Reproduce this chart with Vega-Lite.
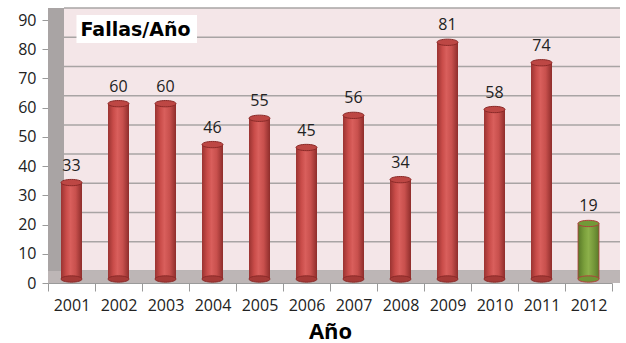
{
  "$schema": "https://vega.github.io/schema/vega-lite/v6.json",
  "width": 564,
  "height": 263,
  "autosize": {"type": "none"},
  "padding": {"left": 48, "top": 20, "right": 14, "bottom": 60},
  "background": "white",
  "view": {"stroke": null, "fill": null},
  "config": {
    "axis": {"labelFont": "Open Sans", "labelFontSize": 16, "labelColor": "#222222", "domainColor": "#9a9a9a", "tickColor": "#9a9a9a", "grid": false},
    "axisX": {"labelAngle": 0, "tickBand": "extent", "tickSize": 8, "labelPadding": 6, "titleFont": "Open Sans", "titleFontSize": 22, "titleFontWeight": "bold", "titleColor": "#000000", "titlePadding": 8},
    "axisY": {"tickSize": 6, "labelPadding": 6, "values": [0, 10, 20, 30, 40, 50, 60, 70, 80, 90]}
  },
  "datasets": {
    "fallas": [
      {"year": "2001", "value": 33},
      {"year": "2002", "value": 60},
      {"year": "2003", "value": 60},
      {"year": "2004", "value": 46},
      {"year": "2005", "value": 55},
      {"year": "2006", "value": 45},
      {"year": "2007", "value": 56},
      {"year": "2008", "value": 34},
      {"year": "2009", "value": 81},
      {"year": "2010", "value": 58},
      {"year": "2011", "value": 74},
      {"year": "2012", "value": 19}
    ],
    "grid": [{"v": 0}, {"v": 10}, {"v": 20}, {"v": 30}, {"v": 40}, {"v": 50}, {"v": 60}, {"v": 70}, {"v": 80}, {"v": 90}],
    "one": [{"label": "Fallas/Año"}]
  },
  "layer": [
    {
      "data": {"name": "fallas"},
      "mark": {"type": "bar", "opacity": 0},
      "encoding": {
        "x": {"field": "year", "type": "nominal", "sort": null, "title": "Año", "scale": {"paddingInner": 0, "paddingOuter": 0}},
        "y": {"field": "value", "type": "quantitative", "title": null, "scale": {"domain": [0, 90]}}
      }
    },
    {
      "data": {"name": "one"},
      "mark": {"type": "rect", "fill": "#a9a4a4", "xOffset": -23.5, "x2Offset": -7.5, "y2Offset": -12},
      "encoding": {
        "x": {"datum": "2001"},
        "x2": {"datum": "2001"},
        "y": {"datum": 0, "type": "quantitative"},
        "y2": {"datum": 90}
      }
    },
    {
      "data": {"name": "one"},
      "mark": {"type": "rect", "fill": "#f4e6e8", "xOffset": -7.5, "x2Offset": 31.5, "yOffset": -12, "y2Offset": -12},
      "encoding": {
        "x": {"datum": "2001"},
        "x2": {"datum": "2012"},
        "y": {"datum": 0, "type": "quantitative"},
        "y2": {"datum": 90}
      }
    },
    {
      "data": {"name": "grid"},
      "mark": {"type": "rule", "stroke": "#a8a4a4", "strokeWidth": 1.5, "xOffset": -7.5, "x2Offset": 31.5, "yOffset": -12},
      "encoding": {
        "x": {"datum": "2001"},
        "x2": {"datum": "2012"},
        "y": {"field": "v", "type": "quantitative", "title": null}
      }
    },
    {
      "data": {"name": "one"},
      "mark": {"type": "rect", "fill": "#bdb6b6", "xOffset": -23.5, "x2Offset": 31.5, "y2Offset": -12},
      "encoding": {
        "x": {"datum": "2001"},
        "x2": {"datum": "2012"},
        "y": {"datum": 0, "type": "quantitative"},
        "y2": {"datum": 0}
      }
    },
    {
      "data": {"name": "fallas"},
      "mark": {"type": "bar", "size": 21, "yOffset": -4, "y2Offset": -4, "strokeWidth": 0.8},
      "encoding": {
        "x": {"field": "year", "type": "nominal", "sort": null},
        "y": {"field": "value", "type": "quantitative"},
        "fill": {
          "condition": {"test": "datum.year === '2012'", "value": {"gradient": "linear", "x1": 0, "x2": 1, "y1": 0, "y2": 0, "stops": [{"offset": 0, "color": "#587828"}, {"offset": 0.3, "color": "#7ba03c"}, {"offset": 0.5, "color": "#8cb04a"}, {"offset": 0.75, "color": "#76983a"}, {"offset": 1, "color": "#5a7b2a"}]}},
          "value": {"gradient": "linear", "x1": 0, "x2": 1, "y1": 0, "y2": 0, "stops": [{"offset": 0, "color": "#9a3331"}, {"offset": 0.25, "color": "#c94c49"}, {"offset": 0.45, "color": "#d95f5c"}, {"offset": 0.7, "color": "#c8504d"}, {"offset": 1, "color": "#8e2d2b"}]}
        },
        "stroke": {"condition": {"test": "datum.year === '2012'", "value": "#b0403c"}, "value": null}
      }
    },
    {
      "data": {"name": "fallas"},
      "mark": {"type": "point", "filled": true, "size": 441, "shape": "M-1,0A1,0.3,0,1,0,1,0A1,0.3,0,1,0,-1,0Z", "yOffset": -4, "strokeWidth": 1},
      "encoding": {
        "x": {"field": "year", "type": "nominal", "sort": null},
        "y": {"datum": 0, "type": "quantitative"},
        "fill": {"condition": {"test": "datum.year === '2012'", "value": "#6f9535"}, "value": "#a53a37"},
        "stroke": {"condition": {"test": "datum.year === '2012'", "value": "#b0403c"}, "value": "#8a2a28"},
        "opacity": {"value": 1}
      }
    },
    {
      "data": {"name": "fallas"},
      "mark": {"type": "point", "filled": true, "size": 441, "shape": "M-1,0A1,0.3,0,1,0,1,0A1,0.3,0,1,0,-1,0Z", "yOffset": -4, "strokeWidth": 1},
      "encoding": {
        "x": {"field": "year", "type": "nominal", "sort": null},
        "y": {"field": "value", "type": "quantitative"},
        "fill": {"condition": {"test": "datum.year === '2012'", "value": "#729a38"}, "value": "#bd4744"},
        "stroke": {"condition": {"test": "datum.year === '2012'", "value": "#b0403c"}, "value": "#8a2a28"},
        "opacity": {"value": 1}
      }
    },
    {
      "data": {"name": "fallas"},
      "mark": {"type": "text", "font": "Open Sans", "fontSize": 16, "fill": "#222222", "baseline": "alphabetic", "yOffset": -4, "dy": -12},
      "encoding": {
        "x": {"field": "year", "type": "nominal", "sort": null},
        "y": {"field": "value", "type": "quantitative"},
        "text": {"field": "value", "type": "quantitative"}
      }
    },
    {
      "data": {"name": "one"},
      "mark": {"type": "rect", "fill": "white", "xOffset": 5, "x2Offset": -15.5},
      "encoding": {
        "x": {"datum": "2001"},
        "x2": {"datum": "2004"},
        "y": {"datum": 82.1, "type": "quantitative"},
        "y2": {"datum": 91.7}
      }
    },
    {
      "data": {"name": "one"},
      "mark": {"type": "text", "font": "DejaVu Sans", "fontWeight": "bold", "fontSize": 19, "fill": "#000000", "align": "left", "baseline": "alphabetic", "dx": 9},
      "encoding": {
        "x": {"datum": "2001"},
        "y": {"datum": 84.5, "type": "quantitative"},
        "text": {"field": "label"}
      }
    }
  ]
}
